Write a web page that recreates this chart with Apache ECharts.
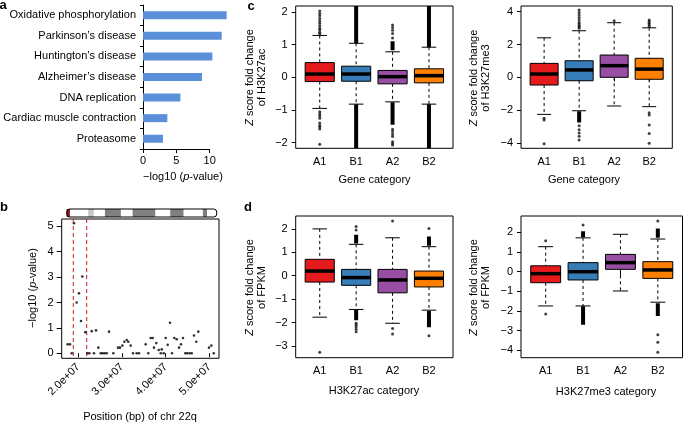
<!DOCTYPE html>
<html><head><meta charset="utf-8">
<script src="https://cdn.jsdelivr.net/npm/echarts@6/dist/echarts.min.js"></script>
<style>html,body{margin:0;padding:0;background:#fff}#c{width:683px;height:423px}</style>
</head><body><div id="c"></div>
<script>
// ---------- Panel a : KEGG pathway enrichment ----------
const pathways = ['Oxidative phosphorylation', 'Parkinson\u2019s disease', 'Huntington\u2019s disease', 'Alzheimer\u2019s disease', 'DNA replication', 'Cardiac muscle contraction', 'Proteasome'];
const pathwayLogP = [12.55, 11.8, 10.4, 8.85, 5.6, 3.65, 3.0];
const logPTicks = [0, 5, 10];

// ---------- Panel b : association along chr 22q ----------
const snpPosMb = [17.57, 18.10, 18.49, 19.02, 19.63, 20.16, 20.62, 20.91, 21.60, 22.06, 22.52, 23.07, 23.59, 24.05, 24.58, 25.13, 25.58, 26.04, 26.50, 27.03, 28.01, 29.09, 29.54, 30.07, 30.53, 31.08, 31.44, 31.99, 32.52, 33.36, 33.89, 35.42, 36.02, 36.57, 37.03, 37.32, 37.85, 38.40, 38.86, 39.09, 39.54, 40.00, 40.46, 40.99, 41.44, 41.97, 42.52, 43.05, 43.50, 43.96, 44.49, 44.94, 45.49, 45.95, 46.48, 47.00, 47.46, 49.91, 50.44, 50.99];
const snpLogP = [0.35, 0.35, 0, 5.12, 2.0, 2.36, 1.27, 3.02, 0.83, 0, 0, 0.87, 0, 0.9, 0.22, 0, 0, 0, 0, 0.85, 0, 0.22, 0.22, 0.3, 0.45, 0.52, 0.45, 0.3, 0, 0, 0, 0.35, 0, 0.6, 0.6, 0.22, 0.4, 0.13, 0, 0.15, 0, 0.6, 0.33, 1.2, 0, 0.6, 0.55, 0.22, 0.35, 0.6, 0, 0, 0, 0, 0.7, 0.45, 0.85, 0.22, 0.3, 0];
const chrTicksMb = [20, 30, 40, 50];
const chrLogPTicks = [0, 1, 2, 3, 4, 5];
const highlightMb = [18.85, 21.92];
const chrLengthMb = 51;
const bandStartMb = [0, 7.3, 13.0, 22.4, 35.2, 46.3];
const bandEndMb = [1.1, 9.2, 18.4, 30.1, 39.7, 47.7];
const bandStain = ['acen', 'gpos25', 'gpos75', 'gpos75', 'gpos75', 'gpos75'];

// ---------- Panels c, d : boxplots ----------
const groups = ['A1', 'B1', 'A2', 'B2'];
// [lower whisker, Q1, median, Q3, upper whisker]
const cAcStats = [[-0.95, -0.13, 0.10, 0.45, 1.28], [-0.82, -0.12, 0.10, 0.34, 1.04], [-0.75, -0.20, 0.02, 0.21, 0.78], [-0.82, -0.17, 0.05, 0.26, 0.92]];
const cAcOut = [[1.33, 1.38, 1.45, 1.5, 1.58, 1.65, 1.72, 1.8, 1.88, 1.95, 2.03, -1.05, -1.12, -1.18, -1.25, -1.4, -1.47, -1.52, -1.58, -2.05], [], [1.2, 1.34, 1.44, 1.52, 1.6, -1.59, -1.66, -1.74, -1.81, -1.97, -2.02, -2.07], []];
const cAcDense = [[], [[1.04, 2.18], [-2.17, -0.82]], [[0.83, 1.1], [-1.45, -0.76]], [[0.92, 2.18], [-2.17, -0.82]]];
const cAcTicks = [-2, -1, 0, 1, 2];

const cMeStats = [[-2.26, -0.47, 0.20, 0.85, 2.41], [-2.04, -0.21, 0.45, 1.01, 2.84], [-1.75, 0.00, 0.71, 1.36, 3.33], [-1.79, -0.12, 0.50, 1.16, 3.02]];
const cMeOut = [[-2.5, -2.6, -4.05], [3.0, 3.08, 3.15, 3.25, 3.35, 3.5, 3.65, 3.8, 3.95, 4.1, -2.95, -3.2, -3.4, -3.6, -3.82], [3.45], [3.1, 3.2, 3.3, 3.4, 3.5, -2.16, -2.3, -2.91, -3.43, -4.02]];
const cMeDense = [[], [[-2.75, -2.07]], [], []];
const cMeTicks = [-4, -2, 0, 2, 4];

const dAcStats = [[-1.77, -0.27, 0.20, 0.70, 2.00], [-1.44, -0.41, -0.08, 0.27, 1.34], [-2.03, -0.73, -0.18, 0.27, 1.62], [-1.47, -0.48, -0.11, 0.20, 1.24]];
const dAcOut = [[-3.27], [1.95, 2.1, -2.03, -2.1, -2.18, -2.29, -2.39], [2.34, -2.25, -2.49], [2.02, -2.56]];
const dAcDense = [[], [[1.38, 1.75], [-1.9, -1.46]], [], [[1.28, 1.68], [-2.2, -1.5]]];
const dAcTicks = [-3, -2, -1, 0, 1, 2];

const dMeStats = [[-1.74, -0.56, -0.10, 0.30, 1.27], [-1.74, -0.42, 0.00, 0.46, 1.72], [-0.98, 0.12, 0.46, 0.88, 1.90], [-1.55, -0.34, 0.09, 0.51, 1.66]];
const dMeOut = [[1.57, -2.15], [2.37], [], [2.58, -3.21, -3.58, -4.09]];
const dMeDense = [[], [[1.75, 2.05], [-2.7, -1.76]], [], [[1.72, 2.2], [-2.25, -1.6]]];
const dMeTicks = [-4, -3, -2, -1, 0, 1, 2];

// ---------- styling ----------
const FONT = '"Liberation Sans", Arial, Helvetica, sans-serif';
const groupColors = ['#e41a1c', '#377eb8', '#984ea3', '#ff7f00'];
const barColor = '#5b8fd9';
const highlightColor = '#d7191c';
const stainColor = {acen: '#8b1a1a', gpos25: '#c8c8c8', gpos75: '#808080'};
const BOX_HALF = 0.4;
const lab = {fontFamily: FONT, fontSize: 11, color: '#000'};
const fmtNum = v => (v < 0 ? '\u2212' + Math.abs(v) : String(v));

const chart = echarts.init(document.getElementById('c'), null, {renderer: 'canvas'});

const frame = {show: true, borderColor: '#000', borderWidth: 1, backgroundColor: 'transparent'};
const grids = [
  {left: 143, top: 5, width: 84.7, height: 144},                // 0 a bars
  {left: 143, top: 5, width: 66.7, height: 144},                // 1 a axis 0-10
  Object.assign({left: 61.7, top: 219, width: 157.3, height: 139.3}, frame), // 2 b
  {left: 66.7, top: 209, width: 150, height: 8},                // 3 ideogram
  Object.assign({left: 295.7, top: 6, width: 157.3, height: 142.3}, frame),  // 4 c left
  Object.assign({left: 521, top: 6, width: 151.3, height: 142.3}, frame),    // 5 c right
  Object.assign({left: 295.7, top: 216, width: 157.3, height: 141.7}, frame),// 6 d left
  Object.assign({left: 521, top: 216, width: 161.5, height: 141.7}, frame)   // 7 d right
];

const noSplit = {show: false};
function hiddenAxis(gi, min, max) {
  return {gridIndex: gi, type: 'value', min, max, show: false, splitLine: noSplit};
}
function groupXAxis(gi) {
  return {gridIndex: gi, type: 'value', min: 0.34, max: 4.66, splitLine: noSplit,
    axisLine: {show: false},
    axisTick: {show: true, customValues: [1, 2, 3, 4], length: 4, lineStyle: {color: '#000'}},
    axisLabel: Object.assign({customValues: [1, 2, 3, 4], margin: 8, formatter: v => groups[Math.round(v) - 1]}, lab)};
}
function groupYAxis(gi, min, max, ticks) {
  return {gridIndex: gi, type: 'value', min, max, splitLine: noSplit,
    axisLine: {show: false},
    axisTick: {show: true, customValues: ticks, length: 4, lineStyle: {color: '#000'}},
    axisLabel: Object.assign({customValues: ticks, margin: 8, formatter: fmtNum}, lab)};
}

const xAxes = [
  hiddenAxis(0, 0, 12.7),
  {gridIndex: 1, type: 'value', min: 0, max: 10, splitLine: noSplit,
    axisLine: {show: true, lineStyle: {color: '#000'}},
    axisTick: {show: true, customValues: logPTicks, length: 4, lineStyle: {color: '#000'}},
    axisLabel: Object.assign({customValues: logPTicks, margin: 6}, lab)},
  {gridIndex: 2, type: 'value', min: 16.2, max: 52.2, splitLine: noSplit,
    axisLine: {show: false},
    axisTick: {show: true, customValues: chrTicksMb, length: 4, lineStyle: {color: '#000'}},
    axisLabel: Object.assign({customValues: chrTicksMb, margin: 7, rotate: 45, formatter: v => (v / 10).toFixed(1) + 'e+07'}, lab)},
  hiddenAxis(3, 0, chrLengthMb),
  groupXAxis(4), groupXAxis(5), groupXAxis(6), groupXAxis(7)
];
const yAxes = [
  {gridIndex: 0, type: 'category', data: pathways, inverse: true, splitLine: noSplit,
    axisLine: {show: true, lineStyle: {color: '#000'}},
    axisTick: {show: true, length: 3, lineStyle: {color: '#000'}},
    axisLabel: Object.assign({interval: 0, margin: 7}, lab)},
  hiddenAxis(1, 0, 1),
  {gridIndex: 2, type: 'value', min: -0.2, max: 5.29, splitLine: noSplit,
    axisLine: {show: false},
    axisTick: {show: true, customValues: chrLogPTicks, length: 5, lineStyle: {color: '#000'}},
    axisLabel: Object.assign({customValues: chrLogPTicks, margin: 8}, lab)},
  hiddenAxis(3, 0, 1),
  groupYAxis(4, -2.17, 2.18, cAcTicks),
  groupYAxis(5, -4.33, 4.35, cMeTicks),
  groupYAxis(6, -3.5, 2.55, dAcTicks),
  groupYAxis(7, -4.37, 2.83, dMeTicks)
];

function renderBox(params, api) {
  const x = api.value(0);
  const c = v => api.coord([x, v]);
  const lo = c(api.value(1)), q1 = c(api.value(2)), md = c(api.value(3)), q3 = c(api.value(4)), hi = c(api.value(5));
  const cx = lo[0];
  const half = api.coord([x + BOX_HALF, 0])[0] - cx;
  const cap = half / 2;
  const dash = {stroke: '#000', lineWidth: 1, lineDash: [3, 3]};
  const solid = {stroke: '#000', lineWidth: 1};
  return {type: 'group', children: [
    {type: 'line', shape: {x1: cx, y1: hi[1], x2: cx, y2: q3[1]}, style: dash},
    {type: 'line', shape: {x1: cx, y1: q1[1], x2: cx, y2: lo[1]}, style: dash},
    {type: 'line', shape: {x1: cx - cap, y1: hi[1], x2: cx + cap, y2: hi[1]}, style: solid},
    {type: 'line', shape: {x1: cx - cap, y1: lo[1], x2: cx + cap, y2: lo[1]}, style: solid},
    {type: 'rect', shape: {x: cx - half, y: q3[1], width: 2 * half, height: q1[1] - q3[1]}, style: {fill: groupColors[params.dataIndex], stroke: '#000', lineWidth: 1}},
    {type: 'line', shape: {x1: cx - half, y1: md[1], x2: cx + half, y2: md[1]}, style: {stroke: '#000', lineWidth: 3.5}}
  ]};
}
function renderDense(params, api) {
  const x = api.value(0);
  const a = api.coord([x, api.value(1)]), b = api.coord([x, api.value(2)]);
  return {type: 'line', shape: {x1: a[0], y1: a[1], x2: b[0], y2: b[1]}, style: {stroke: '#000', lineWidth: 4}};
}
function renderHighlight(params, api) {
  const p = api.coord([api.value(0), 0]);
  const cs = params.coordSys;
  return {type: 'line', shape: {x1: p[0], y1: cs.y, x2: p[0], y2: cs.y + cs.height},
    style: {stroke: highlightColor, lineWidth: 1, lineDash: [4, 3]}};
}
const boxData = stats => stats.map((s, i) => [i + 1].concat(s));
const outData = lists => { const o = []; lists.forEach((l, i) => l.forEach(v => o.push([i + 1, v]))); return o; };
const denseData = lists => { const o = []; lists.forEach((l, i) => l.forEach(r => o.push([i + 1, r[0], r[1]]))); return o; };

function boxSeries(ai, stats, outs, dense) {
  return [
    {type: 'custom', xAxisIndex: ai, yAxisIndex: ai, data: denseData(dense), renderItem: renderDense, clip: true, z: 2, silent: true},
    {type: 'scatter', xAxisIndex: ai, yAxisIndex: ai, data: outData(outs), symbolSize: 3, itemStyle: {color: '#111'}, z: 3, silent: true},
    {type: 'custom', xAxisIndex: ai, yAxisIndex: ai, data: boxData(stats), renderItem: renderBox, z: 4, silent: true}
  ];
}

const series = [
  {type: 'bar', xAxisIndex: 0, yAxisIndex: 0, data: pathwayLogP, barWidth: 8, itemStyle: {color: barColor}, silent: true},
  {type: 'custom', xAxisIndex: 2, yAxisIndex: 2, data: highlightMb.map(v => [v]), renderItem: renderHighlight, z: 2, silent: true},
  {type: 'scatter', xAxisIndex: 2, yAxisIndex: 2, data: snpPosMb.map((p, i) => [p, snpLogP[i]]), symbolSize: 2.6, itemStyle: {color: '#000'}, silent: true, z: 3},
  {type: 'custom', xAxisIndex: 3, yAxisIndex: 3, data: bandStartMb.map((s, i) => [s, bandEndMb[i], i]), silent: true,
    renderItem: (params, api) => {
      const a = api.coord([api.value(0), 1]), b = api.coord([api.value(1), 0]);
      return {type: 'rect', shape: {x: a[0], y: a[1], width: b[0] - a[0], height: b[1] - a[1]}, style: {fill: stainColor[bandStain[api.value(2)]]}};
    }},
  {type: 'custom', xAxisIndex: 3, yAxisIndex: 3, data: [[0, chrLengthMb]], silent: true, z: 3,
    renderItem: (params, api) => {
      const a = api.coord([api.value(0), 1]), b = api.coord([api.value(1), 0]);
      return {type: 'rect', shape: {x: a[0], y: a[1], width: b[0] - a[0], height: b[1] - a[1], r: 3}, style: {fill: null, stroke: '#000', lineWidth: 1}};
    }}
].concat(boxSeries(4, cAcStats, cAcOut, cAcDense), boxSeries(5, cMeStats, cMeOut, cMeDense),
         boxSeries(6, dAcStats, dAcOut, dAcDense), boxSeries(7, dMeStats, dMeOut, dMeDense));

const RICH = {i: {fontStyle: 'italic', fontFamily: FONT, fontSize: 11, fill: '#000'}};
function txt(x, y, text, o) {
  o = o || {};
  return {type: 'text', x, y, rotation: o.rot || 0, silent: true, z: 10,
    style: {text, fontFamily: FONT, fontSize: o.size || 11, fontWeight: o.bold ? 'bold' : 'normal', fill: '#000',
      align: 'center', verticalAlign: 'middle', lineHeight: 12.5, rich: RICH}};
}
const R90 = Math.PI / 2;
const graphics = [
  txt(3, 5, 'a', {bold: true, size: 13}),
  txt(4, 207, 'b', {bold: true, size: 13}),
  txt(251, 6, 'c', {bold: true, size: 13}),
  txt(248, 207, 'd', {bold: true, size: 13}),
  txt(183, 177, '\u2212log10 ({i|p}-value)'),
  txt(33, 288, '\u2212log10 ({i|p}-value)', {rot: R90}),
  txt(140, 416.5, 'Position (bp) of chr 22q'),
  txt(256, 77.5, '{i|Z} score fold change\nof H3K27ac', {rot: R90}),
  txt(374.5, 180, 'Gene category'),
  txt(480, 78, '{i|Z} score fold change\nof H3K27me3', {rot: R90}),
  txt(584, 180, 'Gene category'),
  txt(256, 287.5, '{i|Z} score fold change\nof FPKM', {rot: R90}),
  txt(374, 390.5, 'H3K27ac category'),
  txt(480, 287.5, '{i|Z} score fold change\nof FPKM', {rot: R90}),
  txt(606, 391.5, 'H3K27me3 category')
];

chart.setOption({
  animation: false,
  backgroundColor: '#fff',
  grid: grids,
  xAxis: xAxes,
  yAxis: yAxes,
  series: series,
  graphic: graphics
});
</script></body></html>
